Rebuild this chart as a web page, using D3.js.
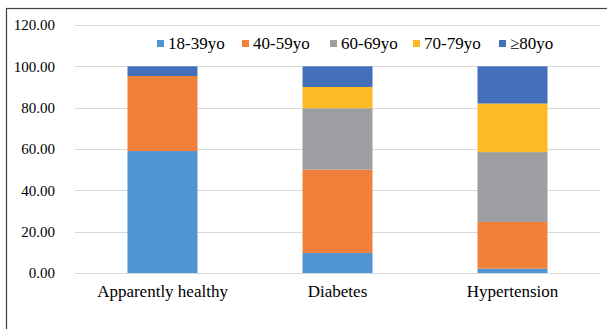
<!DOCTYPE html>
<html>
<head>
<meta charset="utf-8">
<script src="https://cdn.jsdelivr.net/npm/d3@7"></script>
<style>
  body { margin: 0; background: #fff; }
  svg text { font-family: "Liberation Serif", "Times New Roman", serif; fill: #000; }
</style>
</head>
<body>
<div id="chart"></div>
<script>
var svgWidth = 607;
var svgHeight = 329;

// chart data
var categories = ["Apparently healthy", "Diabetes", "Hypertension"];
var ageGroups = ["18-39yo", "40-59yo", "60-69yo", "70-79yo", "\u226580yo"];
var age18to39 = [59.0, 9.7, 2.1];
var age40to59 = [36.3, 40.3, 22.6];
var age60to69 = [0.0, 29.7, 33.8];
var age70to79 = [0.0, 10.3, 23.5];
var age80plus = [4.7, 10.0, 18.0];
var yTicks = [0, 20, 40, 60, 80, 100, 120];

var colors = ["#5194d2", "#f0803a", "#9c9ea1", "#fcbb24", "#4470b9"];

var margin = { top: 25, right: 7, bottom: 56, left: 75 };
var width = svgWidth - margin.left - margin.right;
var height = svgHeight - margin.top - margin.bottom;

var svg = d3.select("#chart")
  .append("svg")
  .attr("width", svgWidth)
  .attr("height", svgHeight);

// outer frame
svg.append("rect")
  .attr("x", 6.5)
  .attr("y", 8.5)
  .attr("width", 640)
  .attr("height", 360)
  .attr("fill", "none")
  .attr("stroke", "#404040")
  .attr("stroke-width", 1.2);

var chartGroup = svg.append("g")
  .attr("transform", `translate(${margin.left}, ${margin.top})`);

var xScale = d3.scaleBand()
  .domain(categories)
  .range([0, width])
  .paddingInner(0.6)
  .paddingOuter(0.3);

var yScale = d3.scaleLinear()
  .domain([0, 120])
  .range([height, 0]);

// grid lines
chartGroup.append("g")
  .selectAll("line")
  .data(yTicks)
  .enter()
  .append("line")
  .attr("x1", 0)
  .attr("x2", width)
  .attr("y1", d => Math.round(yScale(d)) + 0.5)
  .attr("y2", d => Math.round(yScale(d)) + 0.5)
  .attr("stroke", "#d9d9d9")
  .attr("stroke-width", 1);

// y axis labels
var leftAxis = d3.axisLeft(yScale)
  .tickValues(yTicks)
  .tickSize(0)
  .tickPadding(20)
  .tickFormat(d3.format(".2f"));

var yAxis = chartGroup.append("g").call(leftAxis);
yAxis.select(".domain").remove();
yAxis.selectAll("text")
  .attr("font-size", 15);

// stacked bars
var table = categories.map(function(c, i) {
  return {
    category: c,
    "18-39yo": age18to39[i],
    "40-59yo": age40to59[i],
    "60-69yo": age60to69[i],
    "70-79yo": age70to79[i],
    "\u226580yo": age80plus[i]
  };
});

var stack = d3.stack().keys(ageGroups)(table);

var layers = chartGroup.selectAll(".layer")
  .data(stack)
  .enter()
  .append("g")
  .attr("fill", (d, i) => colors[i]);

layers.selectAll("rect")
  .data(d => d)
  .enter()
  .append("rect")
  .attr("x", d => xScale(d.data.category))
  .attr("width", xScale.bandwidth())
  .attr("y", d => yScale(d[1]))
  .attr("height", d => yScale(d[0]) - yScale(d[1]));

// x axis labels
var bottomAxis = d3.axisBottom(xScale).tickSize(0).tickPadding(12);
var xAxis = chartGroup.append("g")
  .attr("transform", `translate(0, ${height})`)
  .call(bottomAxis);
xAxis.select(".domain").remove();
xAxis.selectAll("text")
  .attr("font-size", 17);

// legend
var legendX = [157, 242, 330, 413, 499];
var legend = svg.append("g")
  .attr("transform", "translate(0, 43)");

var items = legend.selectAll("g")
  .data(ageGroups)
  .enter()
  .append("g")
  .attr("transform", (d, i) => `translate(${legendX[i]}, 0)`);

items.append("rect")
  .attr("x", 0)
  .attr("y", -3)
  .attr("width", 7)
  .attr("height", 7)
  .attr("fill", (d, i) => colors[i]);

items.append("text")
  .attr("x", 11)
  .attr("y", 5.5)
  .attr("font-size", 17)
  .text(d => d);
</script>
</body>
</html>
